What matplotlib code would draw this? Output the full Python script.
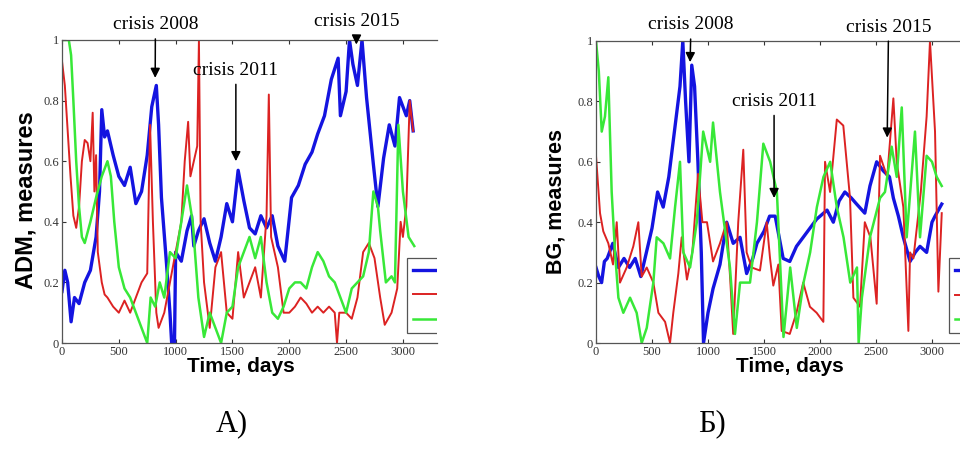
import matplotlib
matplotlib.use("Agg")
import matplotlib.pyplot as plt
import numpy as np

# (day, value) samples
adm_blue = [(0, .17), (25, .24), (50, .2), (80, .07), (110, .15), (150, .13), (200, .2), (250, .24),
            (300, .35), (330, .5), (350, .77), (375, .68), (400, .7), (450, .62), (500, .55), (550, .52),
            (600, .58), (650, .46), (700, .5), (750, .62), (790, .78), (830, .85), (850, .72), (875, .48),
            (920, .26), (950, .1), (965, 0), (990, 0), (1000, .3), (1050, .27), (1100, .37), (1140, .42),
            (1160, .32), (1200, .37), (1250, .41), (1300, .33), (1350, .27), (1400, .35), (1450, .46),
            (1500, .4), (1550, .57), (1600, .47), (1650, .38), (1700, .36), (1750, .42), (1800, .38),
            (1850, .42), (1900, .32), (1960, .27), (2020, .48), (2080, .52), (2140, .59), (2200, .63),
            (2250, .69), (2310, .75), (2370, .87), (2430, .94), (2450, .75), (2500, .83), (2530, 1.0),
            (2560, .92), (2600, .85), (2640, 1.0), (2680, .81), (2740, .59), (2780, .45), (2830, .61),
            (2880, .72), (2930, .65), (2970, .81), (3030, .75), (3060, .8), (3090, .7)]
adm_red = [(0, .93), (25, .85), (50, .7), (75, .55), (100, .42), (125, .38), (150, .45), (175, .6),
           (200, .67), (225, .66), (250, .6), (270, .76), (285, .5), (300, .62), (315, .3), (350, .2),
           (375, .16), (400, .15), (450, .12), (500, .1), (550, .14), (600, .1), (650, .15), (700, .2),
           (750, .23), (775, .72), (800, .4), (830, .1), (850, .05), (900, .1), (950, .2), (1000, .3),
           (1050, .4), (1080, .6), (1110, .73), (1130, .55), (1160, .6), (1190, .65), (1205, 1.0),
           (1220, .4), (1250, .2), (1300, .05), (1350, .25), (1400, .3), (1450, .1), (1500, .08),
           (1550, .3), (1600, .15), (1650, .2), (1700, .25), (1750, .15), (1800, .42), (1820, .82),
           (1840, .35), (1900, .25), (1950, .1), (2000, .1), (2050, .12), (2100, .15), (2150, .13),
           (2200, .1), (2250, .12), (2300, .1), (2350, .12), (2400, .1), (2420, 0), (2440, .1),
           (2500, .1), (2550, .08), (2600, .15), (2650, .3), (2700, .33), (2750, .28), (2800, .15),
           (2840, .06), (2900, .1), (2950, .18), (2980, .4), (3000, .35), (3030, .45), (3060, .8),
           (3090, .7)]
adm_green = [(0, 1.0), (60, 1.0), (80, .95), (100, .8), (125, .6), (150, .45), (175, .35), (200, .33),
             (250, .4), (300, .48), (350, .55), (400, .6), (430, .55), (460, .4), (500, .25), (550, .18),
             (600, .15), (650, .1), (700, .05), (750, 0), (780, .15), (820, .12), (860, .2), (900, .15),
             (950, .3), (1000, .28), (1050, .4), (1100, .52), (1150, .4), (1200, .15), (1250, .02),
             (1300, .1), (1350, .05), (1400, 0), (1450, .1), (1500, .12), (1550, .25), (1600, .3),
             (1650, .35), (1700, .28), (1750, .35), (1800, .2), (1850, .1), (1900, .08), (1950, .12),
             (2000, .18), (2050, .2), (2100, .2), (2150, .18), (2200, .25), (2250, .3), (2300, .27),
             (2350, .22), (2400, .2), (2450, .15), (2500, .1), (2550, .18), (2600, .2), (2650, .22),
             (2700, .3), (2740, .5), (2780, .45), (2800, .37), (2850, .2), (2900, .22), (2930, .2),
             (2960, .72), (3000, .5), (3050, .35), (3100, .32)]

bg_blue = [(0, .25), (25, .22), (50, .2), (75, .27), (100, .28), (150, .33), (200, .25), (250, .28),
           (300, .25), (350, .28), (400, .22), (450, .3), (500, .38), (550, .5), (600, .45), (650, .55),
           (700, .7), (750, .85), (775, 1.0), (800, .8), (830, .6), (855, .92), (880, .85), (910, .6),
           (940, .3), (960, 0), (1000, .1), (1045, .18), (1107, .26), (1167, .4), (1225, .33),
           (1286, .35), (1345, .23), (1400, .28), (1437, .33), (1500, .37), (1550, .42), (1600, .42),
           (1671, .28), (1730, .27), (1790, .32), (1850, .35), (1910, .38), (1970, .41), (2063, .44),
           (2119, .4), (2170, .47), (2222, .5), (2280, .48), (2327, .46), (2400, .43), (2446, .52),
           (2506, .6), (2565, .57), (2620, .55), (2655, .48), (2700, .42), (2744, .35), (2804, .27),
           (2850, .3), (2893, .32), (2952, .3), (3000, .4), (3027, .42), (3087, .46)]
bg_red = [(0, .62), (36, .43), (65, .37), (110, .33), (152, .26), (185, .4), (214, .2), (274, .25),
          (333, .32), (378, .4), (408, .22), (453, .25), (512, .2), (557, .1), (617, .07), (661, 0),
          (690, .1), (735, .23), (765, .35), (812, .21), (860, .3), (911, .56), (950, .4), (991, .4),
          (1045, .27), (1107, .33), (1167, .4), (1200, .2), (1225, .03), (1270, .4), (1315, .64),
          (1345, .3), (1390, .25), (1464, .24), (1524, .4), (1554, .28), (1583, .19), (1628, .26),
          (1658, .04), (1730, .03), (1790, .1), (1850, .2), (1910, .12), (1970, .1), (2030, .07),
          (2045, .6), (2090, .5), (2150, .74), (2208, .72), (2268, .48), (2298, .15), (2357, .12),
          (2400, .4), (2450, .35), (2506, .13), (2536, .62), (2600, .55), (2655, .81), (2685, .6),
          (2744, .45), (2789, .04), (2804, .3), (2834, .28), (2900, .5), (2952, .75), (2982, 1.0),
          (3027, .7), (3057, .17), (3087, .43)]
bg_green = [(0, 1.0), (25, .9), (51, .7), (80, .75), (110, .88), (140, .5), (170, .3), (200, .15),
            (244, .1), (304, .15), (363, .1), (408, 0), (453, .05), (512, .2), (542, .35), (602, .33),
            (661, .28), (706, .45), (750, .6), (780, .3), (840, .25), (900, .4), (957, .7), (1019, .6),
            (1045, .73), (1107, .5), (1196, .25), (1241, .03), (1286, .2), (1375, .2), (1437, .4),
            (1494, .66), (1555, .6), (1615, .5), (1674, .02), (1734, .25), (1793, .05), (1853, .2),
            (1912, .3), (1972, .45), (2031, .55), (2091, .6), (2150, .45), (2210, .35), (2270, .2),
            (2330, .25), (2345, 0), (2374, .15), (2446, .35), (2536, .48), (2580, .5), (2640, .65),
            (2685, .55), (2730, .78), (2774, .35), (2848, .7), (2893, .35), (2952, .62), (3000, .6),
            (3042, .55), (3087, .52)]

adm_crises = [("crisis 2008", 820, 0.875, 822, 1.05),
              ("crisis 2011", 1530, 0.6, 1530, 0.90),
              ("crisis 2015", 2590, 0.985, 2594, 1.06)]
bg_crises = [("crisis 2008", 840, 0.93, 848, 1.053),
             ("crisis 2011", 1590, 0.48, 1590, 0.80),
             ("crisis 2015", 2600, 0.68, 2612, 1.046)]

colors = ["#1414e0", "#dc2222", "#38e838"]
widths = [2.4, 1.4, 1.8]
yticks = [0, 0.2, 0.4, 0.6, 0.8, 1]
xticks = [0, 500, 1000, 1500, 2000, 2500, 3000]

SERIF = "Liberation Serif"
SANS = "Liberation Sans"


def draw_panel(ax, series, crises, ylabel, xmax, ylab_x, ylab_size, xlab_x, leg_x):
    handles = []
    for data, c, w in zip(series, colors, widths):
        d, v = zip(*data)
        h, = ax.plot(d, v, color=c, lw=w)
        handles.append(h)
    ax.set_xlim(0, xmax)
    ax.set_ylim(0, 1)
    ax.set_xticks(xticks)
    ax.set_yticks(yticks)
    ax.set_yticklabels(["0", "0.2", "0.4", "0.6", "0.8", "1"])
    for lab in ax.get_xticklabels() + ax.get_yticklabels():
        lab.set_fontfamily(SERIF)
        lab.set_fontsize(9)
    ax.tick_params(direction="in", length=3, top=True, right=False, pad=2, colors="#333333")
    ax.spines["right"].set_visible(False)
    for s in ("top", "bottom", "left"):
        ax.spines[s].set_color("#555555")
        ax.spines[s].set_linewidth(0.9)
    ax.set_ylabel(ylabel, fontfamily=SANS, fontweight="bold", fontsize=ylab_size)
    ax.yaxis.set_label_coords(ylab_x, 0.47)
    ax.set_xlabel("Time, days", fontfamily=SANS, fontweight="bold", fontsize=15)
    ax.xaxis.set_label_coords(xlab_x, -0.047)

    for text, tx, ty, lx, ly in crises:
        ax.annotate(text, xy=(tx, ty), xytext=(lx, ly), ha="center", va="center",
                    fontfamily=SERIF, fontsize=14, annotation_clip=False,
                    arrowprops=dict(arrowstyle="-|>", color="k", lw=1.1,
                                    mutation_scale=14, shrinkA=2, shrinkB=0))

    # legend names are cropped away in the reference, only the keys show
    leg = ax.legend(handles, ["", "", ""], loc="lower left", bbox_to_anchor=(leg_x, 0.01),
                    fancybox=False, framealpha=1, edgecolor="#555555", fontsize=10,
                    labelspacing=0.75, borderpad=0.45, handlelength=6)
    leg.get_frame().set_linewidth(0.9)
    leg.legendPatch.set_clip_box(ax.bbox)
    leg.legendPatch.set_clip_on(True)
    for art in leg.get_lines():
        art.set_clip_box(ax.bbox)
        art.set_clip_on(True)


fig = plt.figure(figsize=(9.6, 4.51), dpi=100)
W, H = 960, 451

ax1 = fig.add_axes([62 / W, 1 - 343 / H, 375 / W, 303 / H])
draw_panel(ax1, [adm_blue, adm_red, adm_green], adm_crises, "ADM, measures",
           3300, -0.065, 17, 0.477, 0.901)

ax2 = fig.add_axes([596 / W, 1 - 343 / H, 364 / W, 302 / H])
draw_panel(ax2, [bg_blue, bg_red, bg_green], bg_crises, "BG, measures",
           3250, -0.082, 15.5, 0.533, 0.95)

fig.text(232 / W, 1 - 424 / H, "А)", ha="center", va="center", fontfamily=SERIF, fontsize=22)
fig.text(712 / W, 1 - 424 / H, "Б)", ha="center", va="center", fontfamily=SERIF, fontsize=22)

fig.savefig("out.png", dpi=100)
